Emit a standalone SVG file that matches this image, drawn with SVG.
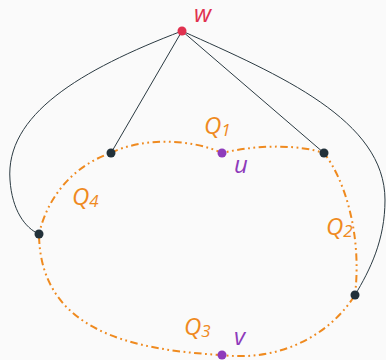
<svg xmlns="http://www.w3.org/2000/svg" width="386" height="360" viewBox="0 0 386 360">
<style>
.bg{fill:#fafafa}
.edge{fill:none;stroke:#2b3a42;stroke-width:1}
.path{fill:none;stroke:#ef8a1f;stroke-width:2;stroke-dasharray:7.5 3.5 1.8 3.5 1.8 3.5}
.node{fill:#22313a}
.lab{font-family:"Open Sans","DejaVu Sans",sans-serif;font-style:italic;font-size:24px}
.q{fill:#ef8a1f}
.sub{font-size:17px}
</style>
<rect class="bg" width="386" height="360"/>
<g id="connectors">
<path class="edge" d="M182,31 L111,153"/>
<path class="edge" d="M182,31 L324,153"/>
<path class="edge" d="M182,31 C80,70 5,115 10,180 C12,210 25,228 39,234"/>
<path class="edge" d="M182,31 C280,75 385,120 385,200 C385,240 370,270 355,295"/>
<path class="path" d="M111,153 C140,138 190,138 222,153 C260,144 300,145 324,153 C345,180 362,235 355,295 C330,335 280,362 222,355 C130,350 40,330 39,234 C48,195 75,165 111,153"/>
</g>
<g id="w"><circle cx="182" cy="31" r="4.5" fill="#e0314f"/><text class="lab" x="194" y="22" fill="#e0314f">w</text></g>
<g id="a"><circle class="node" cx="111" cy="153" r="4.5"/></g>
<g id="b"><circle class="node" cx="324" cy="153" r="4.5"/></g>
<g id="c"><circle class="node" cx="39" cy="234" r="4.5"/></g>
<g id="d"><circle class="node" cx="355" cy="295" r="4.5"/></g>
<g id="u"><circle cx="222" cy="153" r="4.5" fill="#8e3bbb"/><text class="lab" x="234" y="173" fill="#8e3bbb">u</text></g>
<g id="v"><circle cx="222" cy="355" r="4.5" fill="#8e3bbb"/><text class="lab" x="234" y="345" fill="#8e3bbb">v</text></g>
<g id="q1"><text class="lab q" x="204" y="134">Q<tspan class="sub" dy="2">1</tspan></text></g>
<g id="q2"><text class="lab q" x="326" y="235">Q<tspan class="sub" dy="2">2</tspan></text></g>
<g id="q3"><text class="lab q" x="184" y="335">Q<tspan class="sub" dy="2">3</tspan></text></g>
<g id="q4"><text class="lab q" x="72" y="205">Q<tspan class="sub" dy="2">4</tspan></text></g>
</svg>
